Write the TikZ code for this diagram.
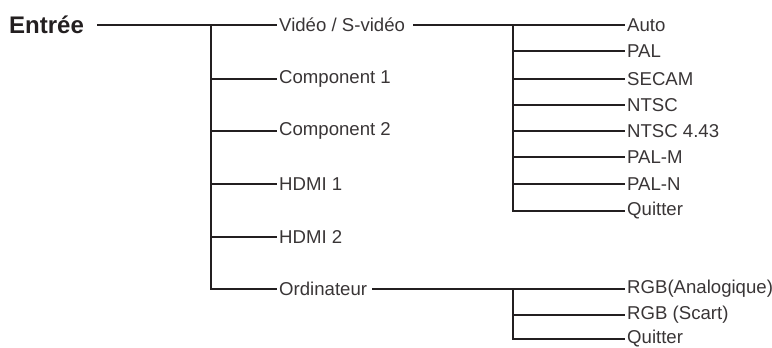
\documentclass[tikz,border=0pt]{standalone}
\usepackage{fontspec}
\setmainfont{Liberation Sans}
\definecolor{ink}{HTML}{231F20}
\begin{document}
\begin{tikzpicture}[x=1pt,y=-1pt,
  conn/.style={draw=ink, line width=2.6pt},
  item/.style={anchor=west, inner xsep=2pt, inner ysep=0pt, text=ink!90, font=\fontsize{18.6}{20}\selectfont},
  head/.style={anchor=west, inner sep=0pt, text=ink, font=\fontsize{24}{26}\selectfont\bfseries}]
\useasboundingbox (0,0) rectangle (772,348);
% root
\node[head] (in) at (9,25) {Entrée};
% level 1
\node[item] (vid)  at (277,25)  {Vidéo / S-vidéo};
\node[item] (c1)   at (277,79)  {Component 1};
\node[item] (c2)   at (277,131) {Component 2};
\node[item] (h1)   at (277,184) {HDMI 1};
\node[item] (h2)   at (277,237) {HDMI 2};
\node[item] (ord)  at (277,289) {Ordinateur};
% level 2 video
\node[item] (auto)  at (625,25)  {Auto};
\node[item] (pal)   at (625,51)  {PAL};
\node[item] (sec)   at (625,79)  {SECAM};
\node[item] (ntsc)  at (625,105) {NTSC};
\node[item] (ntscb) at (625,131) {NTSC 4.43};
\node[item] (palm)  at (625,157) {PAL-M};
\node[item] (paln)  at (625,184) {PAL-N};
\node[item] (q1)    at (625,211) {Quitter};
% level 2 ordinateur
\node[item] (rgba)  at (625,289) {RGB(Analogique)};
\node[item] (rgbs)  at (625,315) {RGB (Scart)};
\node[item] (q2)    at (625,339) {Quitter};
% trunk coordinates
\coordinate (t0) at (211,25);
\coordinate (tv) at (513,25);
\coordinate (to) at (513,289);
% connectors level 1
\draw[conn] ([xshift=13pt]in.east) -- (vid.west);
\draw[conn] (t0) |- (ord.west);
\foreach \n in {c1,c2,h1,h2} \draw[conn] (\n.west -| t0) -- (\n.west);
% video sub
\draw[conn] ([xshift=6pt]vid.east) -- (auto.west);
\draw[conn] (tv) |- (q1.west);
\foreach \n in {pal,sec,ntsc,ntscb,palm,paln} \draw[conn] (\n.west -| tv) -- (\n.west);
% ordinateur sub
\draw[conn] ([xshift=3pt]ord.east) -- (rgba.west);
\draw[conn] (to) |- (q2.west);
\draw[conn] (rgbs.west -| to) -- (rgbs.west);
\end{tikzpicture}
\end{document}
